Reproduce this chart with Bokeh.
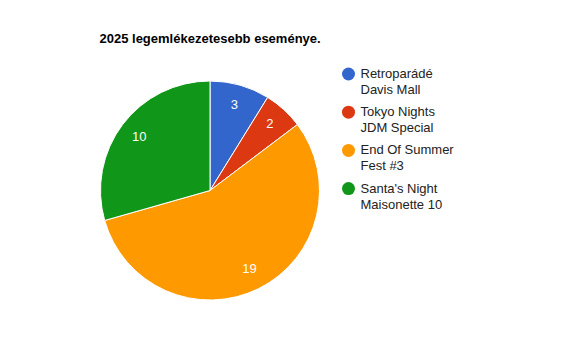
import math
from bokeh.plotting import figure
from bokeh.models import Range1d, ColumnDataSource
from bokeh.core.properties import value
from bokeh.embed import file_html
from bokeh.resources import INLINE

title = "2025 legemlékezetesebb eseménye."
categories = ["Retroparádé\nDavis Mall", "Tokyo Nights\nJDM Special", "End Of Summer\nFest #3", "Santa's Night\nMaisonette 10"]
values = [3, 2, 19, 10]
colors = ["#3366cc", "#dc3912", "#ff9900", "#109618"]

W, H = 545, 343
FONT = value("Liberation Sans")

def fy(sy):
    return H - sy

def fx(sx):
    return sx

p = figure(width=W, height=H, output_backend="svg", toolbar_location=None,
           x_range=Range1d(0, W), y_range=Range1d(0, H), min_border=0)
p.axis.visible = False
p.grid.visible = False
p.outline_line_color = None
p.background_fill_color = "white"
p.border_fill_color = "white"

cx, cy, r = fx(209.5), fy(190), 109.5
total = sum(values)
starts, ends, lx, ly, txt = [], [], [], [], []
cum = 0.0
for v in values:
    a0 = cum / total
    a1 = (cum + v) / total
    starts.append(math.pi / 2 - 2 * math.pi * a1)
    ends.append(math.pi / 2 - 2 * math.pi * a0)
    mid = 2 * math.pi * (a0 + a1) / 2
    lx.append(cx + 0.81 * r * math.sin(mid))
    ly.append(cy + 0.81 * r * math.cos(mid) + 1)
    txt.append(str(v))
    cum += v

src = ColumnDataSource(dict(start=starts, end=ends, color=colors))
p.wedge(x=cx, y=cy, radius=r, start_angle="start", end_angle="end", direction="anticlock",
        fill_color="color", line_color="white", line_width=1, source=src)

p.text(x=lx, y=ly, text=txt, text_color="white", text_font=FONT, text_font_size="13px",
       text_align="center", text_baseline="middle")

# title
p.text(x=[fx(99)], y=[fy(38)], text=[title], text_color="#000000", text_font=FONT,
       text_font_size="13px", text_font_style="bold", text_align="left", text_baseline="alphabetic")

# legend
step = 38.2
dot_y = [fy(73.5 + i * step) for i in range(len(categories))]
p.scatter(x=[fx(348)] * len(categories), y=dot_y, size=13, marker="circle",
          fill_color=colors, line_color=None)
line1 = [c.split("\n")[0] for c in categories]
line2 = [c.split("\n")[1] for c in categories]
p.text(x=[fx(360)] * len(categories), y=[fy(73 + i * step) for i in range(len(categories))],
       text=line1, text_color="#222222", text_font=FONT, text_font_size="13px",
       text_align="left", text_baseline="alphabetic")
p.text(x=[fx(360)] * len(categories), y=[fy(89 + i * step) for i in range(len(categories))],
       text=line2, text_color="#222222", text_font=FONT, text_font_size="13px",
       text_align="left", text_baseline="alphabetic")

open("out.html", "w").write(file_html(p, INLINE))
